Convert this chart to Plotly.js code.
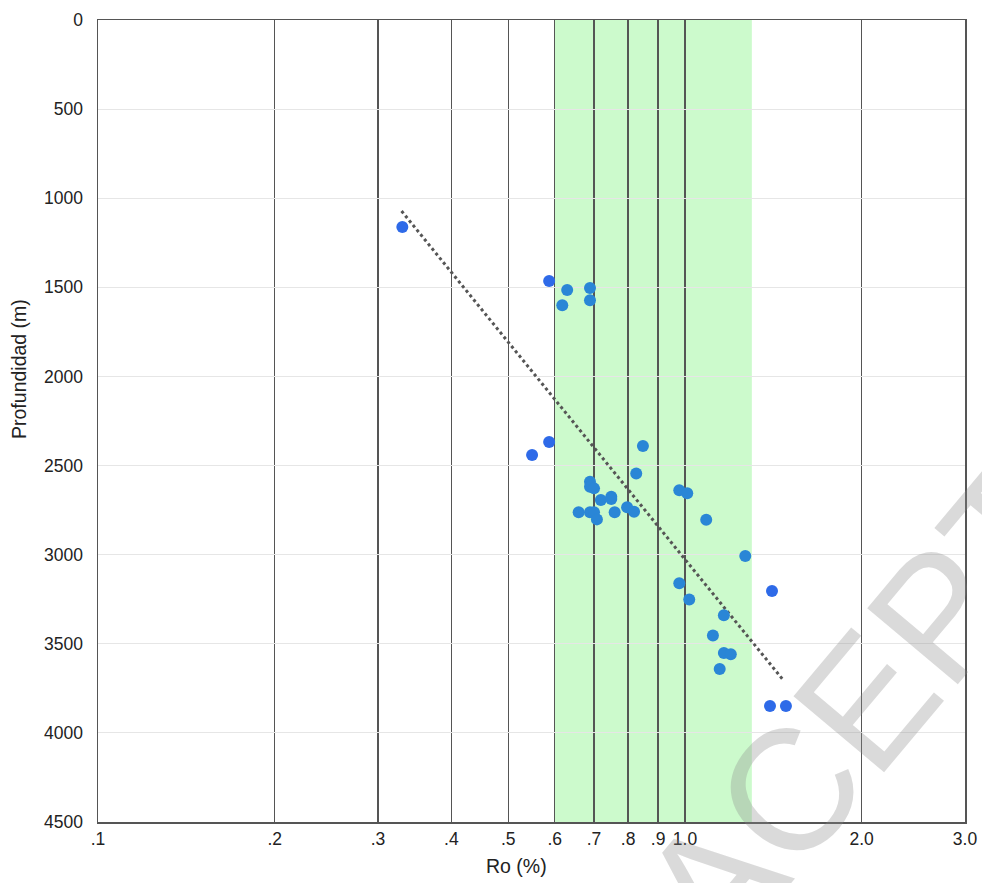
<!DOCTYPE html>
<html>
<head>
<meta charset="utf-8">
<script src="https://cdn.plot.ly/plotly-3.0.1.min.js"></script>
<style>html,body{margin:0;padding:0;background:#fff;}#chart{width:982px;height:883px;}</style>
</head>
<body>
<div id="chart"></div>
<script>
// Ro (%) vs depth (m) — blue samples
const roBlue = [0.33, 0.587, 0.587, 0.549, 1.407, 1.396, 1.486];
const depthBlue = [1161, 1464, 2368, 2441, 3204, 3849, 3849];

// Ro (%) vs depth (m) — teal samples
const roTeal = [0.630, 0.689, 0.618, 0.689, 0.848, 0.826, 0.689, 0.689, 0.700, 0.719,
                0.749, 0.749, 0.659, 0.689, 0.700, 0.759, 0.708, 0.797, 0.819, 0.978,
                1.009, 1.087, 1.267, 0.978, 1.017, 1.165, 1.116, 1.165, 1.197, 1.146];
const depthTeal = [1515, 1504, 1601, 1573, 2390, 2544, 2591, 2619, 2628, 2693,
                   2675, 2688, 2762, 2762, 2762, 2762, 2802, 2734, 2759, 2639,
                   2656, 2804, 3008, 3161, 3251, 3340, 3453, 3552, 3559, 3642];

// trend line end points
const trendRo = [0.329, 1.475];
const trendDepth = [1072, 3709];

// oil window band
const windowRo = [0.6, 1.3];

// ticks
const xTickVals = [0.1, 0.2, 0.3, 0.4, 0.5, 0.6, 0.7, 0.8, 0.9, 1.0, 2.0, 3.0];
const xTickText = ['.1', '.2', '.3', '.4', '.5', '.6', '.7', '.8', '.9', '1.0', '2.0', '3.0'];
const yTickVals = [0, 500, 1000, 1500, 2000, 2500, 3000, 3500, 4000, 4500];

const fam = 'Liberation Sans, Arial, sans-serif';
const font = {family: fam, size: 17.5, color: '#222'};

const traces = [
  {x: trendRo, y: trendDepth, type: 'scatter', mode: 'lines',
   line: {color: '#555', width: 3, dash: 'dot'}, hoverinfo: 'skip', showlegend: false},
  {x: roTeal, y: depthTeal, type: 'scatter', mode: 'markers',
   marker: {color: '#2a86d6', size: 12}, showlegend: false},
  {x: roBlue, y: depthBlue, type: 'scatter', mode: 'markers',
   marker: {color: '#2e6ae8', size: 12}, showlegend: false}
];

const layout = {
  width: 982, height: 883,
  margin: {l: 98, r: 17, t: 20, b: 61},
  paper_bgcolor: '#fff', plot_bgcolor: '#fff',
  font: font,
  showlegend: false,
  xaxis: {
    type: 'log',
    range: [Math.log10(0.1), Math.log10(3.0)],
    tickvals: xTickVals, ticktext: xTickText,
    showgrid: true, gridcolor: '#555', gridwidth: 1.5,
    showline: true, linecolor: '#555', linewidth: 1.5, mirror: true,
    ticks: '', zeroline: false,
    tickfont: font
  },
  yaxis: {
    range: [4500, 0],
    tickvals: yTickVals,
    showgrid: true, gridcolor: '#e6e6e6', gridwidth: 1,
    showline: true, linecolor: '#555', linewidth: 1.5, mirror: true,
    ticks: '', zeroline: false,
    ticklabelstandoff: 10,
    tickfont: font
  },
  shapes: [
    {type: 'rect', xref: 'x', yref: 'paper', x0: windowRo[0], x1: windowRo[1], y0: 0, y1: 1,
     fillcolor: '#ccfacc', line: {width: 0}, layer: 'below'}
  ],
  annotations: [
    {text: 'Profundidad (m)', xref: 'paper', yref: 'paper', x: -0.091, y: 0.565,
     textangle: -90, showarrow: false, xanchor: 'center', yanchor: 'middle',
     font: {family: fam, size: 19.5, color: '#222'}},
    {text: 'Ro (%)', xref: 'paper', yref: 'paper', x: 0.483, y: -0.055,
     showarrow: false, xanchor: 'center', yanchor: 'middle',
     font: {family: fam, size: 19.5, color: '#222'}},
    {text: 'ACEPTADO', xref: 'paper', yref: 'paper', x: 1.012, y: 0.314,
     textangle: -50, showarrow: false, xanchor: 'center', yanchor: 'middle',
     font: {family: fam, size: 172, color: 'rgba(140,140,140,0.32)'}}
  ]
};

Plotly.newPlot('chart', traces, layout, {displayModeBar: false, staticPlot: true});
</script>
</body>
</html>
